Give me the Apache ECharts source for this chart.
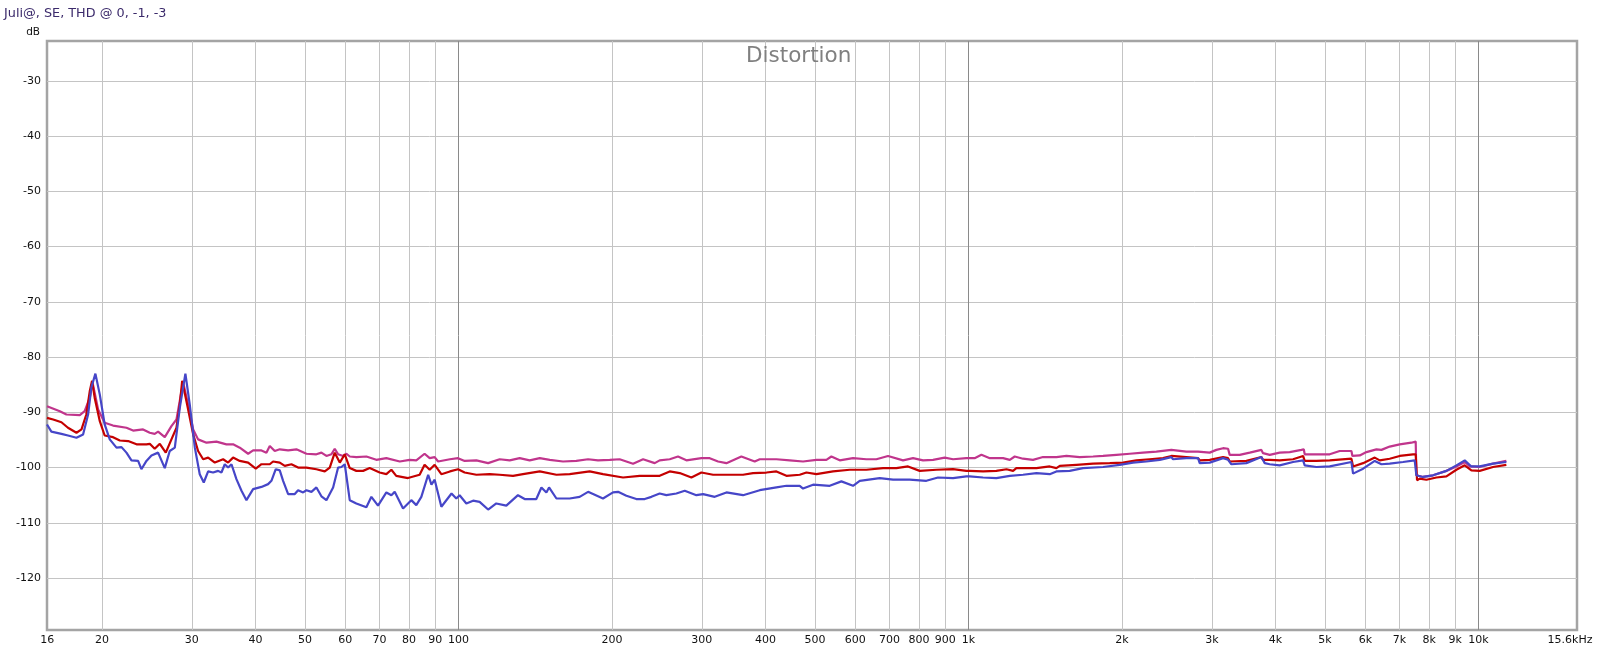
<!DOCTYPE html>
<html><head><meta charset="utf-8">
<script src="https://cdn.jsdelivr.net/npm/echarts@6/dist/echarts.min.js"></script>
<style>html,body{margin:0;padding:0;background:#fff}#c{width:1600px;height:652px}</style>
</head><body><div id="c"></div>
<script>
// ---- data (frequency in Hz, level in dB) ----
const magFreq = [15.6,16.53,17.03,18.09,18.49,18.92,19.16,19.65,20.24,21.02,22.33,23.01,24.07,24.81,25.37,25.76,26.55,27.36,27.99,28.63,28.85,29.5,30.18,30.86,32.05,33.53,35.07,36.14,37.25,38.68,39.56,41.08,42.01,42.65,43.62,44.62,46.34,48.1,50.33,52.65,53.85,55.08,56.34,57.19,58.07,59.39,60.29,
61.2,63.05,65.97,69.0,72.2,76.7,80.2,82.65,85.8,87.8,89.8,91.2,96.2,99.8,102.8,108.4,114.3,120.4,126.0,131.8,137.9,144.3,151.0,160.3,170.2,179.5,187.7,197.9,207.0,219.9,230.1,242.5,
248.0,259.5,269.4,279.8,299.4,310.9,322.8,335.2,358.6,380.9,389.6,420.1,446.1,473.8,503.2,526.4,538.4,559.1,593.7,630.6,659.7,695.4,744.1,778.5,814.4,852.0,898.1,932.6,990.4,
1005,1028,1060,1101,1169,1205,1232,1279,1338,1400,1487,1556,1652,1755,1836,1950,2071,2199,2335,2499,2518,2674,2819,2840,2971,3062,3156,3228,3252,3402,3560,3752,3780,3896,
4075,4264,4495,4543,4563,4810,5108,5343,5634,5659,5850,6029,6307,6451,6697,7006,7385,7531,7554,7785,8144,8650,9050,9397,9612,10054,10678,11340];
const magDb = [-88.9,-89.8,-90.4,-90.5,-89.8,-87.4,-84.6,-89.5,-91.9,-92.4,-92.8,-93.3,-93.1,-93.7,-93.9,-93.5,-94.5,-92.5,-91.3,-86.2,-84.6,-88.6,-93.1,-94.9,-95.5,-95.3,-95.8,-95.8,-96.4,-97.5,-96.9,-96.9,-97.3,-96.1,-97.0,-96.7,-96.9,-96.7,-97.5,-97.6,-97.3,-97.9,-97.6,-96.6,-97.6,-97.9,-97.5,
-98.0,-98.1,-98.0,-98.6,-98.3,-98.9,-98.6,-98.7,-97.5,-98.3,-98.1,-98.9,-98.5,-98.3,-98.8,-98.7,-99.2,-98.5,-98.7,-98.3,-98.7,-98.3,-98.6,-98.9,-98.8,-98.5,-98.7,-98.6,-98.5,-99.3,-98.5,-99.2,
-98.7,-98.5,-98.0,-98.7,-98.3,-98.3,-98.9,-99.2,-98.0,-98.9,-98.5,-98.5,-98.7,-98.9,-98.6,-98.6,-98.0,-98.7,-98.3,-98.5,-98.5,-97.9,-98.7,-98.3,-98.7,-98.6,-98.2,-98.5,-98.3,
-98.3,-98.3,-97.7,-98.3,-98.3,-98.6,-98.0,-98.4,-98.6,-98.1,-98.1,-97.9,-98.1,-98.0,-97.9,-97.7,-97.5,-97.3,-97.1,-96.8,-97.1,-97.1,-97.1,-97.4,-97.3,-96.8,-96.5,-96.6,-97.7,-97.7,-97.3,-96.8,-97.4,-97.7,
-97.3,-97.2,-96.8,-96.7,-97.6,-97.6,-97.6,-97.0,-97.0,-97.9,-97.8,-97.2,-96.7,-96.8,-96.2,-95.8,-95.5,-95.3,-101.4,-101.7,-101.4,-100.6,-99.8,-99.0,-99.8,-99.9,-99.3,-98.8];

const redFreq = [15.6,16.04,16.65,17.15,17.82,18.23,18.63,18.92,19.12,19.35,19.8,20.24,21.02,21.67,22.5,23.37,24.44,24.81,25.37,25.96,26.67,27.36,27.99,28.41,28.72,29.28,30.18,30.86,31.57,32.29,33.28,34.55,35.34,36.14,37.25,38.68,40.04,41.08,42.65,43.29,44.62,45.64,47.03,48.47,50.33,52.65,54.67,55.92,57.19,58.51,59.84,
61.2,63.05,65.0,66.97,70.05,72.2,73.85,75.5,79.6,83.9,85.8,87.8,89.8,92.55,96.2,99.8,102.8,108.4,115.1,120.4,127.9,133.8,144.3,155.6,165.2,180.8,192.0,210.2,226.6,
248.0,259.5,271.5,286.2,299.4,315.6,335.2,361.3,378.0,401.5,420.1,439.5,466.7,481.0,503.2,542.5,584.9,630.6,679.9,722.1,761.1,802.3,864.9,932.6,990.4,
1005,1068,1134,1187,1223,1241,1359,1443,1487,1510,1628,1755,1892,2009,2134,2266,2407,2499,2518,2674,2819,2840,2971,3156,3228,3252,3506,3752,3780,3896,
4075,4329,4529,4563,4810,5108,5634,5676,5939,6260,6402,6697,7006,7441,7531,7577,7669,7903,8268,8650,9050,9397,9684,10054,10678,11340];
const redDb = [-91.0,-91.3,-91.8,-92.8,-93.7,-93.1,-90.4,-86.2,-84.3,-87.4,-91.6,-94.2,-94.5,-95.1,-95.2,-95.8,-95.8,-95.7,-96.6,-95.7,-97.3,-94.9,-92.8,-88.6,-84.3,-88.0,-94.0,-97.0,-98.5,-98.2,-99.1,-98.5,-99.1,-98.2,-98.8,-99.1,-100.2,-99.4,-99.4,-98.9,-99.1,-99.7,-99.4,-100.0,-100.0,-100.3,-100.7,-100.0,-97.3,-99.1,-97.6,
-100.1,-100.6,-100.6,-100.1,-100.9,-101.2,-100.4,-101.5,-101.9,-101.3,-99.5,-100.4,-99.5,-101.2,-100.7,-100.3,-100.9,-101.3,-101.2,-101.3,-101.5,-101.2,-100.7,-101.3,-101.2,-100.7,-101.2,-101.8,-101.5,
-101.5,-100.7,-101.0,-101.8,-100.9,-101.3,-101.3,-101.3,-101.0,-100.9,-100.7,-101.5,-101.3,-100.9,-101.2,-100.7,-100.4,-100.4,-100.1,-100.1,-99.8,-100.6,-100.4,-100.3,-100.6,
-100.6,-100.7,-100.6,-100.3,-100.6,-100.1,-100.1,-99.8,-100.1,-99.7,-99.5,-99.3,-99.2,-99.1,-98.7,-98.5,-98.3,-97.9,-98.1,-98.1,-98.3,-98.7,-98.6,-98.1,-98.3,-98.9,-98.8,-98.1,-98.6,-98.6,
-98.7,-98.5,-97.9,-98.8,-98.8,-98.7,-98.4,-99.8,-99.2,-98.2,-98.7,-98.4,-97.9,-97.6,-97.6,-102.3,-102.0,-102.2,-101.8,-101.6,-100.4,-99.6,-100.5,-100.6,-99.9,-99.5];

const blueFreq = [15.6,15.91,16.65,17.15,17.82,18.36,18.78,19.06,19.41,19.8,20.24,20.71,21.35,21.84,22.33,22.84,23.54,23.89,24.44,25.0,25.76,26.55,27.15,27.78,28.41,29.14,29.72,30.41,31.09,31.66,32.29,33.02,33.78,34.29,34.81,35.34,35.88,36.69,37.54,38.39,39.56,41.08,42.33,42.97,43.82,44.62,45.3,46.34,47.75,48.47,49.58,50.33,51.48,52.65,53.85,55.08,56.77,58.07,58.94,59.84,
61.2,63.05,65.97,67.48,69.53,72.2,73.85,74.97,77.85,80.8,82.65,84.55,87.2,88.5,89.8,92.55,96.9,99.0,100.5,103.6,106.8,110.0,114.3,118.6,124.1,130.8,134.8,142.1,145.4,148.7,150.5,155.6,165.2,172.8,179.5,192.0,200.9,205.5,213.4,223.2,231.8,238.9,
248.0,255.6,267.4,277.7,292.7,301.7,318.0,335.2,361.3,389.6,420.1,439.5,466.7,473.8,495.7,534.4,563.3,593.7,611.9,669.7,711.3,766.8,826.8,871.5,932.6,990.4,
1005,1068,1134,1205,1279,1359,1443,1487,1579,1677,1836,1979,2102,2232,2371,2499,2518,2674,2819,2840,2971,3156,3228,3277,3506,3752,3809,3896,
4075,4329,4529,4563,4810,5108,5634,5676,5939,6260,6451,6697,7112,7497,7554,7785,8144,8650,9050,9397,9684,10054,10678,11340];
const blueDb = [-92.2,-93.5,-93.9,-94.2,-94.6,-94.0,-90.4,-85.5,-83.0,-86.8,-92.2,-94.9,-96.4,-96.3,-97.3,-98.7,-98.8,-100.3,-98.8,-97.8,-97.3,-100.1,-97.0,-96.4,-89.2,-83.0,-88.6,-96.4,-101.2,-102.7,-100.7,-100.9,-100.6,-100.9,-99.4,-100.0,-99.4,-102.1,-104.2,-105.9,-103.9,-103.5,-103.0,-102.4,-100.3,-100.5,-102.4,-104.8,-104.8,-104.1,-104.5,-104.1,-104.4,-103.6,-105.2,-105.9,-103.6,-100.0,-99.9,-99.4,
-105.9,-106.5,-107.2,-105.3,-106.9,-104.5,-105.0,-104.4,-107.4,-105.9,-106.8,-105.3,-101.3,-103.1,-102.2,-107.1,-104.7,-105.6,-105.0,-106.5,-106.0,-106.2,-107.6,-106.5,-106.9,-105.0,-105.7,-105.7,-103.6,-104.5,-103.6,-105.6,-105.6,-105.3,-104.4,-105.6,-104.5,-104.4,-105.1,-105.7,-105.7,-105.3,
-104.7,-105.0,-104.7,-104.2,-105.0,-104.8,-105.3,-104.5,-105.0,-104.1,-103.6,-103.3,-103.3,-103.8,-103.1,-103.3,-102.5,-103.3,-102.4,-101.9,-102.2,-102.2,-102.4,-101.8,-101.9,-101.6,
-101.6,-101.8,-101.9,-101.5,-101.3,-101.0,-101.2,-100.7,-100.6,-100.1,-99.9,-99.5,-99.1,-98.9,-98.6,-98.1,-98.5,-98.3,-98.3,-99.2,-99.1,-98.3,-98.6,-99.4,-99.2,-98.1,-99.2,-99.4,
-99.6,-99.0,-98.7,-99.6,-99.9,-99.8,-99.0,-101.1,-100.2,-98.8,-99.4,-99.3,-99.0,-98.7,-101.4,-101.7,-101.4,-100.6,-99.6,-98.7,-99.8,-99.8,-99.3,-99.0];

// ---- axes ----
const xGridValues = [20,30,40,50,60,70,80,90,200,300,400,500,600,700,800,900,2000,3000,4000,5000,6000,7000,8000,9000];
const xDecadeValues = [100,1000,10000];
const xLabelValues = [15.61,20,30,40,50,60,70,80,90,100,200,300,400,500,600,700,800,900,1000,2000,3000,4000,5000,6000,7000,8000,9000,10000,15599];
const yTickValues = [-120,-110,-100,-90,-80,-70,-60,-50,-40,-30];
const chartTitle = 'Juli@, SE, THD @ 0, -1, -3';
const plotTitle = 'Distortion';
const yUnit = 'dB';

const zip = (f, d) => f.map((v, i) => [v, d[i]]);
const FONT = 'DejaVu Sans';
const X0 = 47, Y0 = 41, W = 1530, H = 589;

function xFmt(v) {
  if (v < 16) return '16';
  if (v > 15000) return '{r|15.6kHz}';
  if (v >= 1000) return (v / 1000) + 'k';
  return String(v);
}

const chart = echarts.init(document.getElementById('c'), null, {renderer: 'canvas'});
chart.setOption({
  animation: false,
  backgroundColor: '#ffffff',
  grid: {left: X0, top: Y0, width: W, height: H, show: true, borderColor: '#a4a4a4', borderWidth: 2.5, backgroundColor: 'transparent'},
  xAxis: [{
    type: 'log', logBase: 10, min: 15.6, max: 15600, gridIndex: 0,
    axisLine: {show: false},
    splitLine: {show: false},
    axisTick: {show: true, inside: true, length: H, customValues: xGridValues, lineStyle: {color: '#c4c4c4', width: 1}},
    axisLabel: {show: true, customValues: xLabelValues, formatter: xFmt, margin: 5, color: '#111', fontFamily: FONT, fontSize: 11,
      rich: {r: {fontFamily: FONT, fontSize: 11, color: '#111', padding: [0, 14, 0, 0]}}}
  }, {
    type: 'log', logBase: 10, min: 15.6, max: 15600, gridIndex: 0, position: 'bottom',
    axisLine: {show: false}, splitLine: {show: false}, axisLabel: {show: false},
    axisTick: {show: true, inside: true, length: H, customValues: xDecadeValues, lineStyle: {color: '#8a8a8a', width: 1}}
  }],
  yAxis: {
    type: 'value', min: -129.4, max: -22.8,
    axisLine: {show: false},
    splitLine: {show: false},
    axisTick: {show: true, inside: true, length: W, customValues: yTickValues, lineStyle: {color: '#c4c4c4', width: 1}},
    axisLabel: {show: true, customValues: yTickValues, margin: 6, color: '#111', fontFamily: FONT, fontSize: 11}
  },
  graphic: [
    {type: 'text', left: 4, top: 7, style: {text: chartTitle, fill: '#3b2a6b', font: '12.8px "DejaVu Sans"'}},
    {type: 'text', right: 1560, top: 27, style: {text: yUnit, fill: '#111', font: '10.5px "DejaVu Sans"', textAlign: 'right'}},
    {type: 'text', left: 746, top: 45, style: {text: plotTitle, fill: '#808080', font: '21.5px "DejaVu Sans"'}, z: 1}
  ],
  series: [
    {name: '0', type: 'line', data: zip(magFreq, magDb), showSymbol: false, symbol: 'none', lineStyle: {color: '#c0358c', width: 2.2}, itemStyle: {color: '#c0358c'}, z: 3},
    {name: '-1', type: 'line', data: zip(redFreq, redDb), showSymbol: false, symbol: 'none', lineStyle: {color: '#c40000', width: 2.2}, itemStyle: {color: '#c40000'}, z: 4},
    {name: '-3', type: 'line', data: zip(blueFreq, blueDb), showSymbol: false, symbol: 'none', lineStyle: {color: '#4646c8', width: 2.2}, itemStyle: {color: '#4646c8'}, z: 5}
  ]
});
</script>
</body></html>
